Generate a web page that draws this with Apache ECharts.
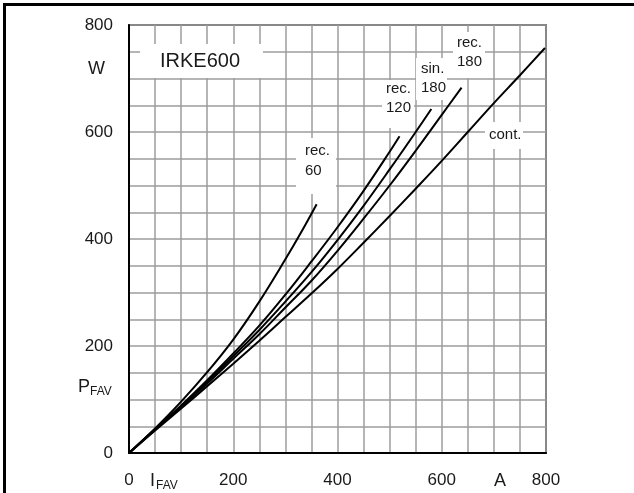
<!DOCTYPE html>
<html>
<head>
<meta charset="utf-8">
<script src="https://cdn.jsdelivr.net/npm/echarts@6/dist/echarts.min.js"></script>
<style>
html,body{margin:0;padding:0;background:#fff;}
#chart{width:634px;height:493px;}
</style>
</head>
<body>
<div id="chart"></div>
<script>
// ---- data ----
const xTicks = [0, 200, 400, 600, 800];
const yTicks = [0, 200, 400, 600, 800];

const iRec60  = [0, 50, 100, 150, 200, 250, 300, 330, 360];
const pRec60  = [0, 46, 96, 151, 212, 283, 362, 412, 465];

const iRec120 = [0, 50, 100, 150, 200, 250, 300, 350, 400, 450, 500, 519];
const pRec120 = [0, 45, 89, 136, 186, 238, 296, 358, 422, 490, 563, 592];

const iSin180 = [0, 50, 100, 150, 200, 250, 300, 350, 400, 450, 500, 550, 580];
const pSin180 = [0, 44, 87, 133, 181, 230, 283, 338, 398, 462, 530, 600, 643];

const iRec180 = [0, 50, 100, 150, 200, 250, 300, 350, 400, 450, 500, 550, 600, 638];
const pRec180 = [0, 43, 86, 130, 176, 222, 272, 322, 378, 438, 500, 565, 632, 683];

const iCont   = [0, 50, 100, 150, 200, 250, 300, 350, 400, 450, 500, 550, 600, 650, 700, 750, 798];
const pCont   = [0, 42, 83, 125, 167, 210, 254, 298, 344, 393, 443, 494, 546, 600, 654, 706, 757];

const seriesNames = ['rec. 60', 'rec. 120', 'sin. 180', 'rec. 180', 'cont.'];

// ---- build ----
function pairs(xs, ys) { return xs.map((x, i) => [x, ys[i]]); }
const curves = [
  pairs(iRec60, pRec60),
  pairs(iRec120, pRec120),
  pairs(iSin180, pSin180),
  pairs(iRec180, pRec180),
  pairs(iCont, pCont)
];

const FONT = '"Liberation Sans", Arial, sans-serif';
const chart = echarts.init(document.getElementById('chart'), null, {renderer: 'canvas'});

function txt(text, x, y, size, extra) {
  return Object.assign({
    type: 'text', z: 101,
    style: {text: text, x: x, y: y, font: size + 'px ' + FONT, fill: '#1a1a1a', verticalAlign: 'middle', align: 'left'}
  }, extra || {});
}
function mask(x, y, w, h) {
  return {type: 'rect', z: 100, shape: {x: x, y: y, width: w, height: h}, style: {fill: '#fff'}};
}

const option = {
  animation: false,
  backgroundColor: '#fff',
  grid: {left: 129, top: 25, right: 88, bottom: 40, show: true, borderColor: '#111', borderWidth: 1.5, backgroundColor: 'transparent'},
  xAxis: {
    type: 'value', min: 0, max: 800, interval: 50,
    axisLine: {show: true, lineStyle: {color: '#000', width: 2}},
    axisTick: {show: false},
    splitLine: {show: true, lineStyle: {color: '#9c9c9c', width: 1.5}},
    axisLabel: {
      margin: 19, color: '#1a1a1a', fontSize: 17, fontFamily: FONT,
      formatter: v => xTicks.indexOf(v) >= 0 ? String(v) : ''
    }
  },
  yAxis: {
    type: 'value', min: 0, max: 800, interval: 50,
    axisLine: {show: true, lineStyle: {color: '#000', width: 2}},
    axisTick: {show: false},
    splitLine: {show: true, lineStyle: {color: '#9c9c9c', width: 1.5}},
    axisLabel: {
      margin: 16, color: '#1a1a1a', fontSize: 17, fontFamily: FONT,
      formatter: v => yTicks.indexOf(v) >= 0 ? String(v) : ''
    }
  },
  series: curves.map((d, k) => ({
    name: seriesNames[k], type: 'line', data: d, smooth: 0.4, symbol: 'none', z: 3,
    lineStyle: {color: '#000', width: 2}
  })),
  graphic: [
    // page frame
    {type: 'rect', z: 100, shape: {x: 3, y: 3, width: 631, height: 3}, style: {fill: '#000'}},
    {type: 'rect', z: 100, shape: {x: 3, y: 3, width: 3, height: 490}, style: {fill: '#000'}},
    // label masks
    mask(140, 44, 123, 34),
    mask(296, 138, 40, 56),
    mask(382, 80, 32, 48),
    mask(416, 58, 31, 42),
    mask(453, 32, 32, 46),
    mask(485, 122, 38, 27),
    // title
    txt('IRKE600', 160, 61, 20),
    // curve labels
    txt('rec.', 305, 151, 15), txt('60', 305, 171, 15),
    txt('rec.', 386, 89, 15), txt('120', 386, 108, 15),
    txt('sin.', 421, 69, 15), txt('180', 421, 88, 15),
    txt('rec.', 457, 43, 15), txt('180', 457, 62, 15),
    txt('cont.', 489, 135, 15),
    // axis names
    txt('W', 88, 69, 18),
    txt('P', 78, 387, 18), txt('FAV', 90, 392, 12),
    txt('I', 150, 481, 18), txt('FAV', 156, 486, 12),
    txt('A', 494, 481, 18)
  ]
};
chart.setOption(option);
</script>
</body>
</html>
